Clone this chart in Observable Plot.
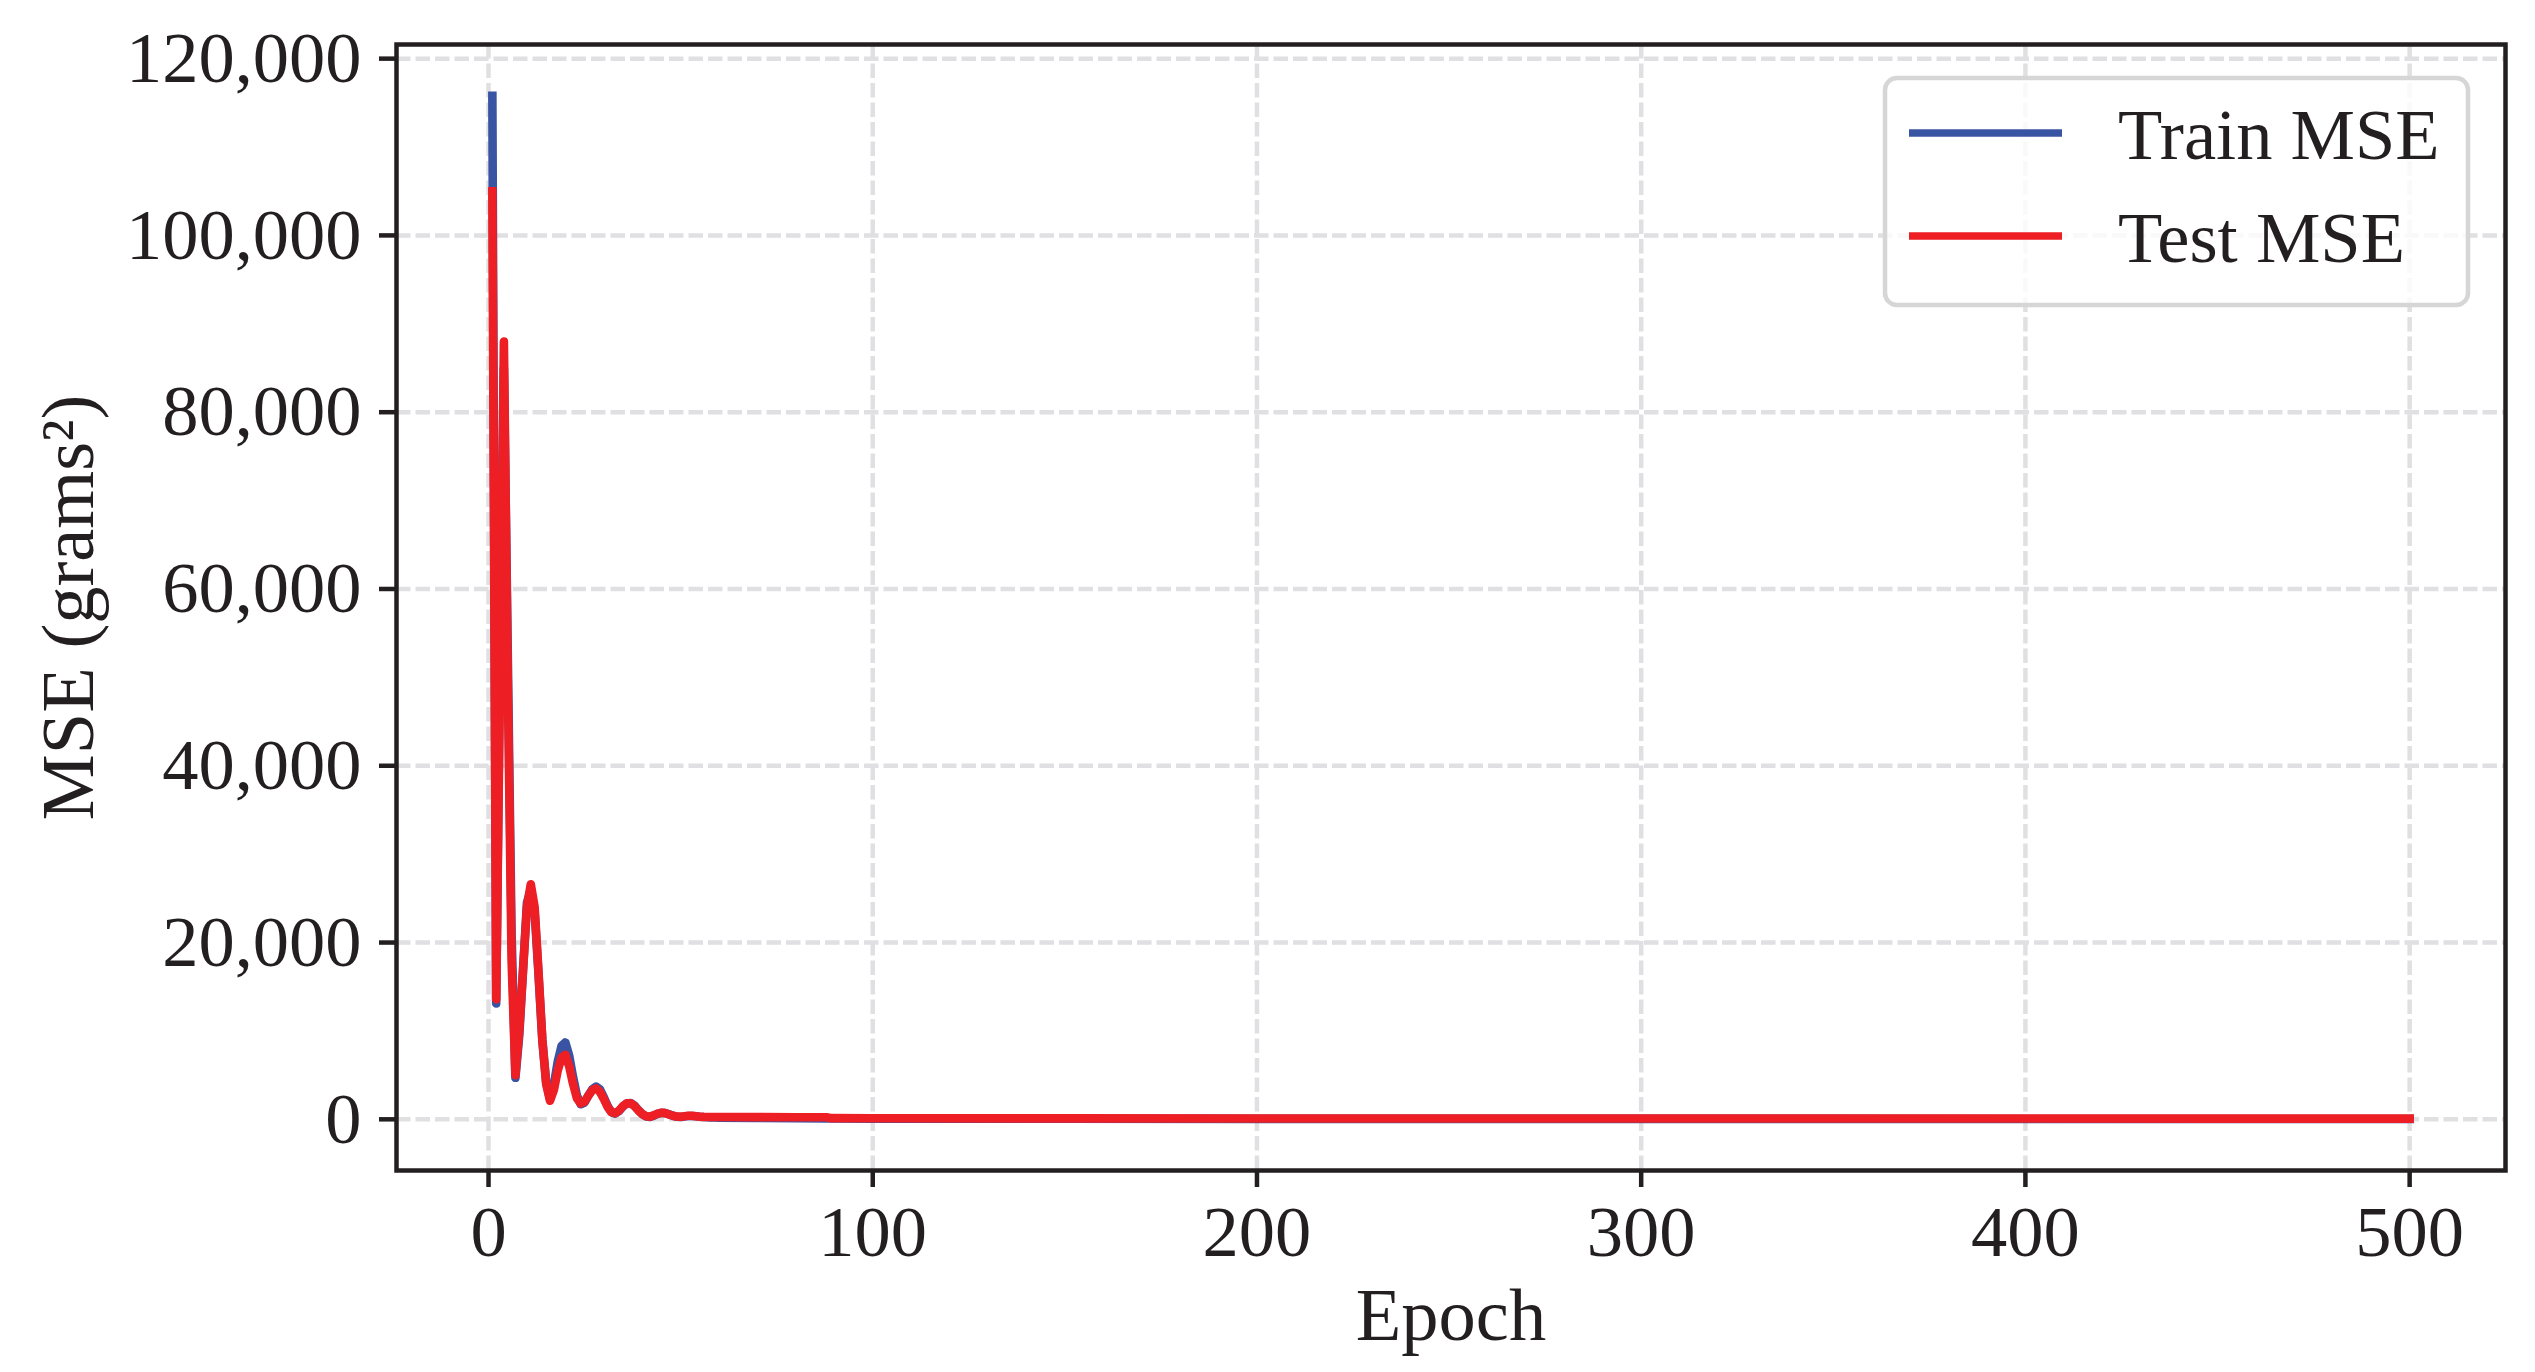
<!DOCTYPE html>
<html><head><meta charset="utf-8">
<script src="https://cdn.jsdelivr.net/npm/d3@7"></script>
<script src="https://cdn.jsdelivr.net/npm/@observablehq/plot@0.6"></script>
<style>html,body{margin:0;padding:0;background:#fff;} svg{display:block;}</style>
</head><body><div id="chart"></div>
<script>
const epochs = [1,2,3,4,5,6,7,8,9,10,11,12,13,14,15,16,17,18,19,20,
  21,22,23,24,25,26,27,28,29,30,31,32,33,34,35,36,37,38,39,40,
  41,42,43,44,45,46,47,48,49,50,51,52,53,54,55,56,57,58,59,60,
  70,80,88,89,100,150,200,250,300,350,400,450,500];
const trainMSE = [115800,13100,53000,85000,53000,21000,4700,9500,17000,24500,
  26000,23500,16500,9000,4200,2300,3900,6500,8300,8700,
  7200,4800,2700,1700,1900,2700,3400,3700,3400,2500,
  1500,800,650,950,1450,1800,1850,1550,1050,600,
  330,270,420,620,740,700,560,400,290,270,
  320,370,380,340,290,260,240,220,200,190,
  150,120,110,105,80,60,55,50,45,45,40,40,40];
const testMSE = [105000,13600,50000,88000,50000,18000,5000,10000,17000,24000,
  26600,24000,16700,9000,4000,2100,3300,5500,7000,7300,
  6000,4000,2400,1800,2000,2700,3300,3500,3100,2300,
  1400,800,700,1000,1500,1800,1800,1500,1000,600,
  350,300,450,650,750,700,550,400,300,300,
  350,400,400,350,300,280,270,270,260,260,
  250,240,230,130,120,110,100,95,90,85,85,80,80];
const xTicks = [0,100,200,300,400,500];
const yTicks = [0,20000,40000,60000,80000,100000,120000];
const seriesNames = ["Train MSE","Test MSE"];
const seriesColors = ["#3A54A4","#EE1E25"];
const xLabel = "Epoch";
const yLabel = "MSE (grams²)";

const trainRows = epochs.map((e,i)=>({epoch:e, mse:trainMSE[i]}));
const testRows = epochs.map((e,i)=>({epoch:e, mse:testMSE[i]}));

const ink = "#231f20";
const FONT = "'Liberation Serif', 'Times New Roman', serif";
const TICK_FS = 72.5, LABEL_FS = 74.5, LEGEND_FS = 72.5;
const gridStyle = {stroke:"#e0e0e2", strokeOpacity:1, strokeWidth:4.5, strokeDasharray:"14.5,5"};

const chart = Plot.plot({
  width: 2535, height: 1372,
  marginLeft: 396, marginRight: 30, marginTop: 44, marginBottom: 202,
  style: {fontFamily: FONT, fontSize: TICK_FS + "px", color: ink, background: "#fff", overflow: "visible"},
  x: {domain: [-23.95, 524.95]},
  y: {domain: [-5790, 121600]},
  marks: [
    Plot.gridX(xTicks, gridStyle),
    Plot.gridY(yTicks, gridStyle),
    Plot.line(trainRows, {x:"epoch", y:"mse", stroke: seriesColors[0], strokeWidth: 8.6, strokeLinecap:"square", strokeLinejoin:"round"}),
    Plot.line(testRows, {x:"epoch", y:"mse", stroke: seriesColors[1], strokeWidth: 8.6, strokeLinecap:"square", strokeLinejoin:"round"}),
    Plot.frame({stroke: ink, strokeWidth: 4.5}),
    Plot.axisX(xTicks, {tickSize: 17, tickPadding: 17, strokeWidth: 4.5, stroke: ink, fill: ink, fontSize: TICK_FS, label: null}),
    Plot.axisY(yTicks, {tickSize: 17, tickPadding: 18, strokeWidth: 4.5, stroke: ink, fill: ink, fontSize: TICK_FS, label: null, tickFormat: d3.format(",")}),
    Plot.text([xLabel], {frameAnchor: "bottom", dy: 169, lineAnchor: "bottom", textAnchor: "middle", fontSize: LABEL_FS, fill: ink}),
    Plot.text([yLabel], {frameAnchor: "left", dx: -304, rotate: -90, lineAnchor: "bottom", textAnchor: "middle", fontSize: LABEL_FS, fill: ink})
  ]
});
document.getElementById("chart").appendChild(chart);

// legend
const svg = d3.select(chart);
const lg = svg.append("g").attr("text-anchor", "start");
lg.append("rect").attr("x",1885).attr("y",78).attr("width",583).attr("height",227)
  .attr("rx",12).attr("fill","#fff").attr("fill-opacity",0.8)
  .attr("stroke","#d6d6d6").attr("stroke-width",4.5);
const swY = [133, 236], txY = [159.3, 262.3];
seriesNames.forEach((name,i)=>{
  lg.append("line").attr("x1",1909).attr("x2",2062).attr("y1",swY[i]).attr("y2",swY[i])
    .attr("stroke",seriesColors[i]).attr("stroke-width",7.7);
  lg.append("text").attr("x",2118).attr("y",txY[i]).attr("fill",ink)
    .attr("text-anchor","start")
    .attr("font-family",FONT).attr("font-size",LEGEND_FS).text(name);
});
</script>
</body></html>
